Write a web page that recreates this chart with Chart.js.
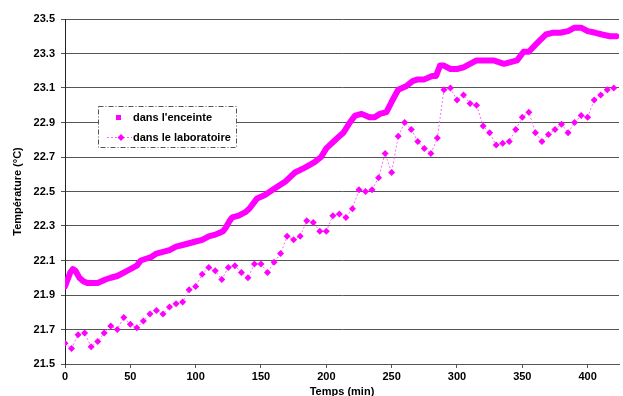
<!DOCTYPE html>
<html lang="fr">
<head>
    <meta charset="UTF-8">
    <title>Température enceinte / laboratoire</title>
    <script src="https://cdn.jsdelivr.net/npm/chart.js"></script>
    <style>
        body { margin: 0; background: #fff; overflow: hidden; }
        canvas { display: block; }
    </style>
</head>
<body>
    <canvas id="tempChart" width="623" height="396"></canvas>

    <script>
        // Temperature inside the enclosure (dense curve)
        const enceinteTemps = [0, 2, 4, 6, 8, 11, 14, 17, 20, 25, 28, 31, 35, 40, 45, 50, 55, 58, 62, 66,
            70, 75, 80, 85, 90, 95, 100, 105, 110, 115, 118, 121, 123, 126, 128, 133, 138, 141, 144, 147,
            153, 161, 169, 176, 184, 191, 196, 200, 207, 213, 218, 222, 227, 233, 237, 241, 246, 250, 255, 261,
            266, 270, 275, 281, 284, 287, 290, 295, 300, 305, 310, 315, 321, 328, 336, 341, 346, 351, 355, 360,
            364, 368, 373, 379, 385, 390, 395, 400, 406, 411, 417, 422];
        const enceinteValeurs = [21.95, 21.99, 22.03, 22.05, 22.04, 22.00, 21.98, 21.97, 21.97, 21.97, 21.98, 21.99, 22.00, 22.01, 22.03, 22.05, 22.07, 22.10, 22.11, 22.12,
            22.14, 22.15, 22.16, 22.18, 22.19, 22.20, 22.21, 22.22, 22.24, 22.25, 22.26, 22.27, 22.29, 22.33, 22.35, 22.36, 22.38, 22.40, 22.43, 22.46,
            22.48, 22.52, 22.56, 22.61, 22.64, 22.67, 22.70, 22.75, 22.80, 22.84, 22.90, 22.94, 22.95, 22.93, 22.93, 22.95, 22.96, 23.02, 23.09, 23.11,
            23.14, 23.15, 23.15, 23.17, 23.17, 23.23, 23.23, 23.21, 23.21, 23.22, 23.24, 23.26, 23.26, 23.26, 23.24, 23.25, 23.26, 23.31, 23.31, 23.35,
            23.38, 23.41, 23.42, 23.42, 23.43, 23.45, 23.45, 23.43, 23.42, 23.41, 23.40, 23.40];

        // Temperature in the laboratory (one reading every 5 min)
        const laboTemps = [0, 5, 10, 15, 20, 25, 30, 35, 40, 45, 50, 55, 60, 65, 70, 75, 80, 85, 90, 95,
            100, 105, 110, 115, 120, 125, 130, 135, 140, 145, 150, 155, 160, 165, 170, 175, 180, 185, 190, 195,
            200, 205, 210, 215, 220, 225, 230, 235, 240, 245, 250, 255, 260, 265, 270, 275, 280, 285, 290, 295,
            300, 305, 310, 315, 320, 325, 330, 335, 340, 345, 350, 355, 360, 365, 370, 375, 380, 385, 390, 395,
            400, 405, 410, 415, 420];
        const laboValeurs = [21.62, 21.59, 21.67, 21.68, 21.60, 21.63, 21.68, 21.72, 21.70, 21.77, 21.73, 21.71, 21.75, 21.79, 21.81, 21.79, 21.83, 21.85, 21.86, 21.93,
            21.95, 22.02, 22.06, 22.04, 21.99, 22.06, 22.07, 22.03, 22.00, 22.08, 22.08, 22.03, 22.09, 22.14, 22.24, 22.22, 22.24, 22.33, 22.32, 22.27,
            22.27, 22.36, 22.37, 22.35, 22.40, 22.51, 22.50, 22.51, 22.58, 22.72, 22.61, 22.82, 22.90, 22.86, 22.79, 22.75, 22.72, 22.81, 23.09, 23.10,
            23.03, 23.06, 23.01, 23.00, 22.88, 22.84, 22.77, 22.78, 22.79, 22.86, 22.93, 22.96, 22.84, 22.79, 22.83, 22.86, 22.89, 22.84, 22.90, 22.94,
            22.93, 23.03, 23.06, 23.09, 23.10];

        const seriesNames = ["dans l'enceinte", 'dans le laboratoire'];
        const xTickStep = 50;
        const yTicks = [21.5, 21.7, 21.9, 22.1, 22.3, 22.5, 22.7, 22.9, 23.1, 23.3, 23.5];

        const boldFont = { family: "'Liberation Sans', Arial, sans-serif", size: 11, weight: 'bold' };

        // legend drawn inside the plot, with a dash-dot frame like the original
        const boxLegend = {
            id: 'boxLegend',
            afterDatasetsDraw(chart) {
                const ctx = chart.ctx;
                ctx.save();
                ctx.fillStyle = '#fff';
                ctx.fillRect(98.5, 106.5, 138, 41);
                ctx.strokeStyle = '#555';
                ctx.lineWidth = 1;
                ctx.setLineDash([5, 2, 1, 2]);
                ctx.strokeRect(98.5, 106.5, 138, 41);
                ctx.setLineDash([]);

                // first entry: square marker only
                ctx.fillStyle = '#ff00ff';
                ctx.fillRect(116, 115, 5, 5);

                // second entry: dotted line + diamond marker
                ctx.strokeStyle = '#ff66ff';
                ctx.setLineDash([2, 2]);
                ctx.beginPath();
                ctx.moveTo(107, 137.5);
                ctx.lineTo(132, 137.5);
                ctx.stroke();
                ctx.setLineDash([]);
                ctx.fillStyle = '#ff00ff';
                ctx.beginPath();
                ctx.moveTo(121, 134);
                ctx.lineTo(124.5, 137.5);
                ctx.lineTo(121, 141);
                ctx.lineTo(117.5, 137.5);
                ctx.closePath();
                ctx.fill();

                ctx.fillStyle = '#000';
                ctx.font = "bold 11px 'Liberation Sans', Arial, sans-serif";
                ctx.textBaseline = 'middle';
                ctx.fillText(seriesNames[0], 133, 117.5);
                ctx.fillText(seriesNames[1], 133, 137.5);
                ctx.restore();
            }
        };

        const ctx = document.getElementById('tempChart').getContext('2d');
        new Chart(ctx, {
            type: 'line',
            data: {
                datasets: [
                    {
                        label: seriesNames[0],
                        data: enceinteTemps.map((t, i) => ({ x: t, y: enceinteValeurs[i] })),
                        borderColor: '#ff00ff',
                        backgroundColor: '#ff00ff',
                        borderWidth: 6,
                        borderJoinStyle: 'round',
                        borderCapStyle: 'round',
                        pointRadius: 0,
                        tension: 0
                    },
                    {
                        label: seriesNames[1],
                        data: laboTemps.map((t, i) => ({ x: t, y: laboValeurs[i] })),
                        borderColor: '#ff66ff',
                        backgroundColor: '#ff00ff',
                        borderWidth: 1,
                        borderDash: [2, 2],
                        pointStyle: 'rectRot',
                        pointRadius: 3.5,
                        pointBorderWidth: 0,
                        pointBackgroundColor: '#ff00ff',
                        tension: 0
                    }
                ]
            },
            options: {
                responsive: false,
                animation: false,
                layout: { padding: { top: 19, right: 1, bottom: 0, left: 0 } },
                plugins: {
                    legend: { display: false },
                    tooltip: { enabled: false }
                },
                scales: {
                    x: {
                        type: 'linear',
                        min: 0,
                        max: 424,
                        afterBuildTicks: (scale) => {
                            scale.ticks = scale.ticks.filter(t => t.value % xTickStep === 0);
                        },
                        afterFit: (scale) => { scale.height = 32; },
                        ticks: {
                            stepSize: xTickStep,
                            color: '#000',
                            font: boldFont,
                            padding: 2,
                            maxRotation: 0
                        },
                        grid: {
                            drawOnChartArea: false,
                            drawTicks: true,
                            tickLength: 4,
                            color: '#555'
                        },
                        border: { color: '#555', width: 1 },
                        title: {
                            display: true,
                            text: 'Temps (min)',
                            color: '#000',
                            font: boldFont,
                            padding: { top: 0, bottom: -3 }
                        }
                    },
                    y: {
                        min: 21.5,
                        max: 23.5,
                        afterBuildTicks: (scale) => {
                            scale.ticks = yTicks.map(v => ({ value: v }));
                        },
                        afterFit: (scale) => { scale.width = 65; },
                        ticks: {
                            color: '#000',
                            font: boldFont,
                            padding: 6,
                            callback: (v) => Number(v).toFixed(1)
                        },
                        grid: {
                            color: '#555',
                            tickLength: 4
                        },
                        border: { color: '#222', width: 1 },
                        title: {
                            display: true,
                            text: 'Température (°C)',
                            color: '#000',
                            font: boldFont,
                            padding: { top: 11, bottom: 4 }
                        }
                    }
                }
            },
            plugins: [boxLegend]
        });
    </script>
</body>
</html>
